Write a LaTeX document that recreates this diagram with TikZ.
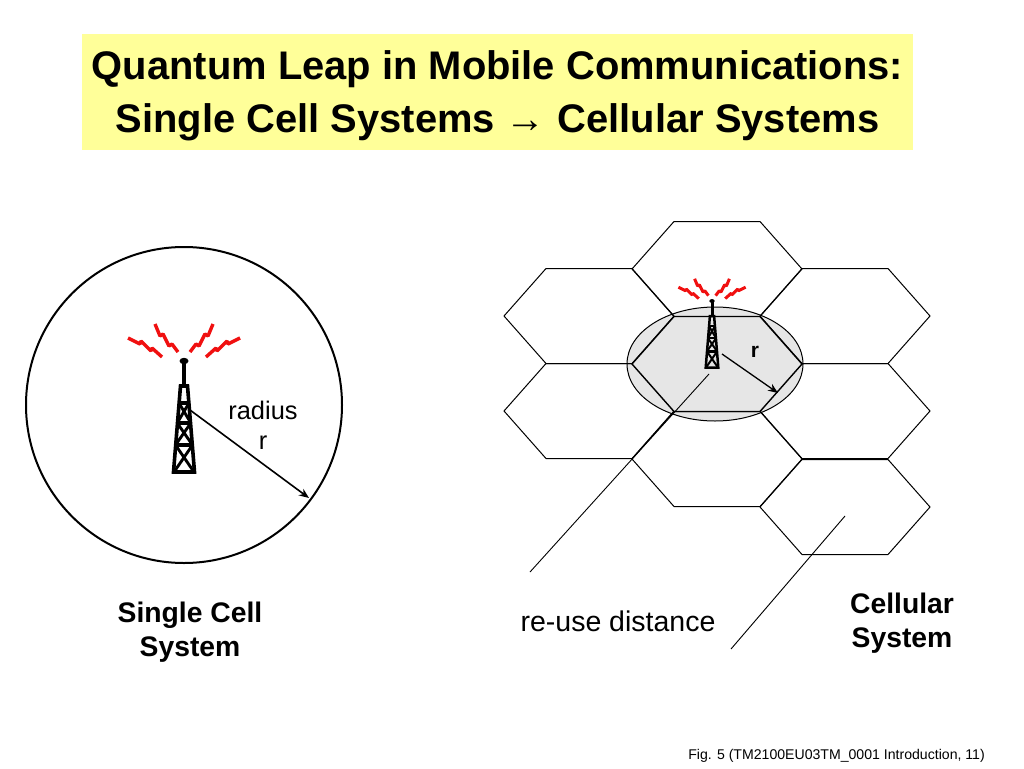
\documentclass[tikz,border=0pt]{standalone}
\usepackage{fontspec}
\setmainfont{Liberation Sans}
\usetikzlibrary{arrows.meta,shapes.geometric}
\definecolor{titlebg}{HTML}{FFFF99}
\definecolor{cellgray}{HTML}{E6E6E6}
\definecolor{boltred}{HTML}{F01010}
\tikzset{
  hexcell/.style={draw=black,line width=1pt,line join=miter},
  arrowline/.style={draw=black,-{Stealth[length=10pt,width=8pt]}},
  leader/.style={draw=black,line width=.9pt},
  boldlabel/.style={align=center,inner sep=0pt,font=\fontsize{28.3}{34}\selectfont\bfseries},
}
\newcommand{\hexat}[3]{% centre x, y, extra options
  \draw[hexcell,#3] (#1-85,#2) -- (#1-43,#2-47.5) -- (#1+43,#2-47.5) -- (#1+85,#2) -- (#1+43,#2+47.5) -- (#1-43,#2+47.5) -- cycle;}
\newcommand{\towerat}[5]{% x, y, scale, line width, bolt width
  \begin{scope}[shift={(#1,#2)},scale=#3]
    \foreach \s in {1,-1}{
      \begin{scope}[xscale=\s]
        \draw[boltred,line width=#5,line join=bevel] (-56,-23) -- (-44,-17) -- (-43,-20) -- (-33,-10) -- (-32,-13) -- (-22,-4);
        \draw[boltred,line width=#5,line join=bevel] (-29,-37) -- (-24,-25) -- (-21,-27) -- (-15,-15) -- (-12,-17) -- (-6,-9);
      \end{scope}
    }
    \fill (0,0) ellipse (4.5 and 3.2);
    \draw[line width=#4*1.2] (0,0) -- (0,25);
    \draw[line width=#4,line join=miter] (-10.5,111) -- (-3.5,25) -- (3.5,25) -- (10.5,111) -- cycle;
    \draw[line width=#4*.9] (-8.5,84) -- (8.5,84) (-6.8,62) -- (6.8,62) (-5,42) -- (5,42);
    \draw[line width=#4*.8] (-10,111) -- (8.5,84) (10,111) -- (-8.5,84) (-8.5,84) -- (6.8,62) (8.5,84) -- (-6.8,62) (-6.8,62) -- (5,42) (6.8,62) -- (-5,42);
  \end{scope}}
\begin{document}
\begin{tikzpicture}[x=1pt,y=-1pt]
\useasboundingbox (0,0) rectangle (1024,768);
\fill[titlebg] (82,34) rectangle (913,150);
\node[inner sep=0pt,font=\fontsize{39.9}{53}\selectfont\bfseries,align=center] (title) at (497.5,95.5) {Quantum Leap in Mobile Communications:\\Single Cell Systems →\hspace{.02em} Cellular Systems};
% single cell
\node[circle,draw=black,line width=2pt,minimum size=316pt,inner sep=0pt] (cell) at (184,405) {};
\towerat{184}{361}{1}{3.6pt}{3.4pt}
\coordinate (bigfrom) at (190,410);
\coordinate (bigto) at (309,498);
\draw[arrowline,line width=1.6pt] (bigfrom) -- (bigto);
\node[align=center,inner sep=0pt,font=\fontsize{25.4}{30}\selectfont] (radius) at (263,425) {radius\\r};
\node[boldlabel] (single) at (190,632) {Single Cell\\System};
% cellular
\node[ellipse,draw=black,fill=cellgray,line width=1pt,minimum width=176pt,minimum height=114pt,inner sep=0pt] (reuse) at (715,364) {};
\hexat{717}{269}{}
\hexat{589}{316}{}
\hexat{845}{316}{}
\hexat{589}{411}{}
\hexat{845}{411}{}
\hexat{717}{459}{}
\hexat{845}{507}{}
\hexat{717}{364}{fill=cellgray,line width=1.4pt}
\towerat{712}{301}{.6}{2.5pt}{3pt}
\coordinate (smallfrom) at (722,354);
\coordinate (smallto) at (778,393);
\draw[arrowline,line width=1.3pt] (smallfrom) -- (smallto);
\node[inner sep=0pt,font=\fontsize{21}{24}\selectfont\bfseries] (smallr) at (755,352) {r};
\coordinate (lineAa) at (530,572);
\coordinate (lineAb) at (709,374);
\coordinate (lineBa) at (731,649);
\coordinate (lineBb) at (845,516);
\draw[leader] (lineAa) -- (lineAb);
\draw[leader] (lineBa) -- (lineBb);
\node[align=center,inner sep=0pt,font=\fontsize{28.5}{32}\selectfont] (reusetext) at (618,621) {re-use distance};
\node[boldlabel] (cellular) at (902,623) {Cellular\\System};
\node[anchor=east,inner sep=0pt,font=\fontsize{14.1}{16}\selectfont] (fig) at (985,756) {Fig. 5 (TM2100EU03TM\_0001 Introduction, 11)};
\end{tikzpicture}
\end{document}
